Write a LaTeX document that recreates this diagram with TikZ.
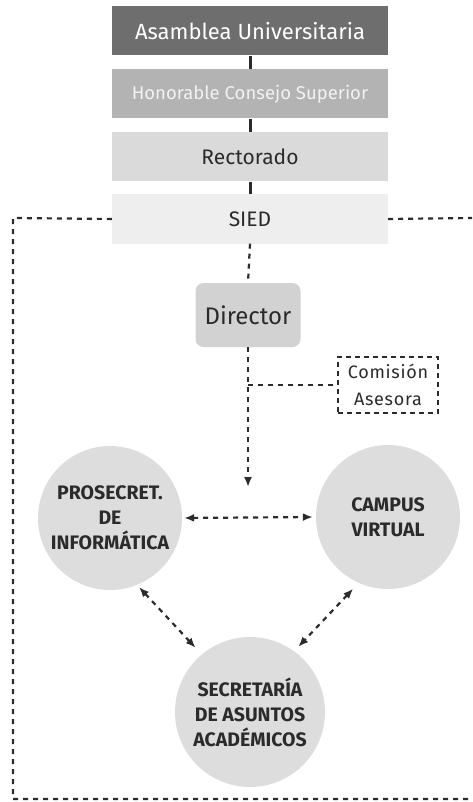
\documentclass[tikz,border=0pt]{standalone}
\usepackage{fontspec}
\setmainfont{Fira Sans}
\usepackage{tikz}
\usetikzlibrary{arrows.meta}
\usetikzlibrary{positioning}

\definecolor{inkgray}{HTML}{2B2B2B}
\definecolor{asamgray}{HTML}{6E6E6E}
\definecolor{hcsgray}{HTML}{B3B3B3}
\definecolor{rectgray}{HTML}{DADADA}
\definecolor{siedgray}{HTML}{EEEEEE}
\definecolor{dirgray}{HTML}{D2D2D2}
\definecolor{circgray}{HTML}{DDDDDD}

\begin{document}
\begin{tikzpicture}[
x = 1pt, y = -1pt,
every node/.style = {text=inkgray},
levelbox/.style   = {rectangle, minimum width=276pt, minimum height=49pt, inner sep=0pt},
dirbox/.style     = {rectangle, rounded corners=8pt, fill=dirgray, minimum width=105pt, minimum height=64pt, font=\fontsize{24}{26}\selectfont},
advbox/.style     = {rectangle, draw=inkgray, line width=2pt, dash pattern=on 5pt off 4pt, minimum width=100pt, minimum height=56pt, align=center, inner sep=0pt, font=\fontsize{18}{27}\selectfont\addfontfeature{LetterSpace=4}},
unitnode/.style   = {circle, fill=circgray, align=center, inner sep=0pt, font=\bfseries\fontsize{19.5}{25}\selectfont},
solidlink/.style  = {draw=inkgray, line width=3pt},
dotlink/.style    = {draw=inkgray, line width=2.2pt, dash pattern=on 5pt off 5pt},
dotarrow/.style   = {dotlink, {Latex[length=10pt,width=8pt]}-{Latex[length=10pt,width=8pt]}}
]

\useasboundingbox (0,0) rectangle (472,802);

% niveles de gobierno
\node [levelbox, fill=asamgray, text=white, font=\fontsize{22}{24}\selectfont] (asamblea) at (250,31) {Asamblea Universitaria};
\node [levelbox, fill=hcsgray, text=white!95!black, font=\fontsize{18.5}{20}\selectfont] (hcs) at (250,94) {Honorable Consejo Superior};
\node [levelbox, fill=rectgray, font=\fontsize{21}{23}\selectfont] (rectorado) at (250,157) {Rectorado};
\node [levelbox, fill=siedgray, font=\fontsize{21}{23}\selectfont] (sied) at (250,219) {SIED};

\draw [solidlink] (asamblea.south) -- (hcs.north);
\draw [solidlink] (hcs.south) -- (rectorado.north);
\draw [solidlink] (rectorado.south) -- (sied.north);

% direccion
\node [dirbox] (director) at (248,315) {Director};
\node [advbox] (comision) at (388,385) {Comisión\\Asesora};

\coordinate (ramal) at (248,385);
\coordinate (llegada) at (248,487);
\coordinate (izqA) at (13,218);
\coordinate (izqB) at (13,799);
\coordinate (abajo) at (472,799);
\coordinate (der) at (472,218);

\draw [dotlink] (sied.south) -- (director.north);
\draw [dotlink, -{Latex[length=10pt,width=8pt]}] (director.south) -- (llegada);
\draw [dotlink] (ramal) -- (comision.west);
\draw [dotlink] (sied.west) -- (izqA) -- (izqB) -- (abajo);
\draw [dotlink] (sied.east) -- (der);

% areas
\node [unitnode, minimum size=144pt] (prosec) at (110,518) {PROSECRET.\\DE\\INFORMÁTICA};
\node [unitnode, minimum size=144pt] (campus) at (388,517) {CAMPUS\\VIRTUAL};
\node [unitnode, minimum size=150pt] (secre) at (250,712) {SECRETARÍA\\DE ASUNTOS\\ACADÉMICOS};

\draw [dotarrow, shorten <=2pt, shorten >=3pt] (prosec.east) -- (campus.west);
\draw [dotarrow, shorten <=3pt, shorten >=9pt] (prosec.-68) -- (secre.130);
\draw [dotarrow, shorten <=8pt, shorten >=6pt] (campus.-114) -- (secre.54);

\end{tikzpicture}
\end{document}
